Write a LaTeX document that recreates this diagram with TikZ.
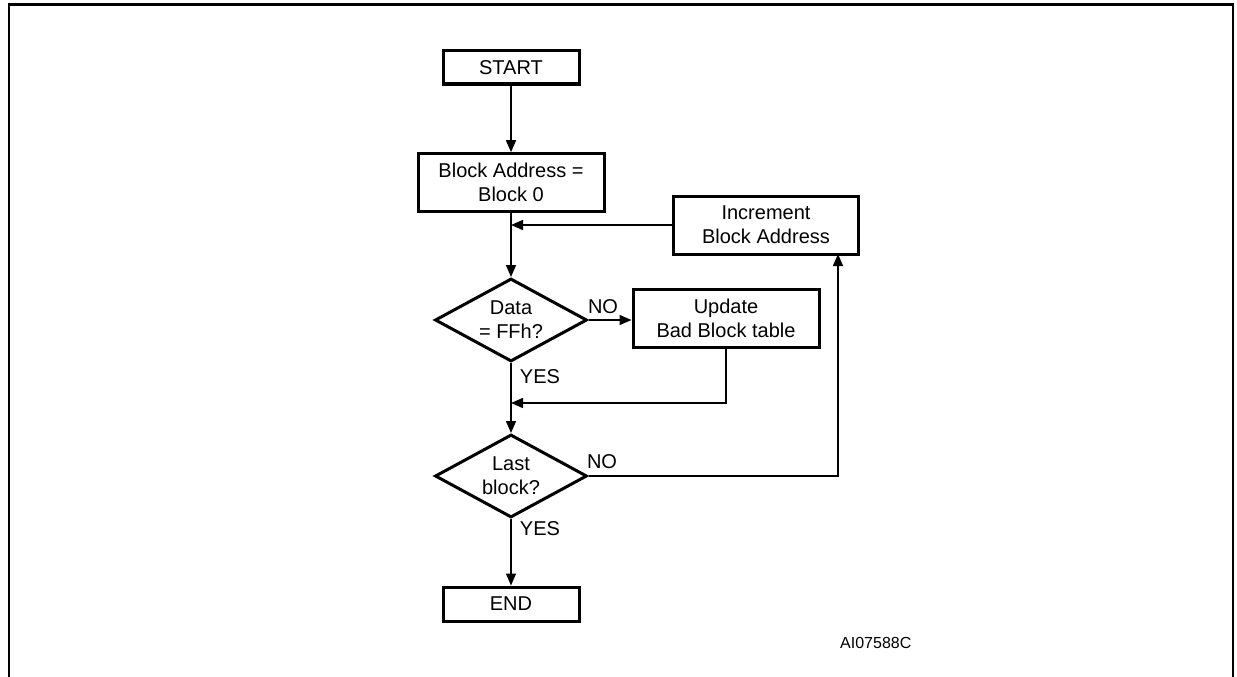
\documentclass[tikz,border=0pt]{standalone}
\usepackage{fontspec}
\setmainfont{Liberation Sans}
\usetikzlibrary{shapes.geometric,arrows.meta}
\begin{document}
\begin{tikzpicture}[x=1pt,y=-1pt,
  every node/.style={font=\fontsize{20}{24}\selectfont, align=center},
  boxnode/.style={draw, line width=3pt, inner sep=0pt},
  decision/.style={draw, diamond, line width=3pt, inner sep=0pt, aspect=1.8, minimum width=152pt, minimum height=83pt},
  conn/.style={line width=1.5pt, -{Triangle[length=12pt,width=10pt]}},
  plainline/.style={line width=1.5pt},
  lbl/.style={inner sep=0pt},
  framestyle/.style={line width=2.5pt}]
\useasboundingbox (0,0) rectangle (1237,677);
\draw[framestyle] (9,700) -- (9,4.3) -- (1233,4.3) -- (1233,700);

\node[boxnode, minimum width=136pt, minimum height=33pt] (start) at (511,67.5) {START};
\node[boxnode, minimum width=186pt, minimum height=58pt] (baddr) at (511,182.7) {Block Address =\\Block 0};
\node[boxnode, minimum width=185pt, minimum height=58pt] (incr) at (766,225) {Increment\\Block Address};
\node[decision] (data) at (511,320) {Data\\= FFh?};
\node[boxnode, minimum width=186pt, minimum height=58pt] (upd) at (726,318.5) {Update\\Bad Block table};
\node[decision] (last) at (511,476) {Last\\block?};
\node[boxnode, minimum width=136pt, minimum height=34pt] (end) at (511,604) {END};

\node[lbl] (no1) at (603,307) {NO};
\node[lbl] (yes1) at (540,377) {YES};
\node[lbl] (no2) at (602,462) {NO};
\node[lbl] (yes2) at (540,529) {YES};
\node[lbl, font=\fontsize{16}{19}\selectfont, anchor=west] (code) at (840,643) {AI07588C};

\coordinate (merge) at (511,403);
\coordinate (rtop) at (838,254);

\draw[conn] (start.south) -- (baddr.north);
\draw[conn] (baddr.south) -- (data.north);
\draw[conn] (incr.west) -- (baddr.south |- incr.west);
\draw[conn] (data.east) -- (data.east -| upd.west);
\draw[conn] (upd.south) |- (merge);
\draw[conn] (data.south) -- (last.north);
\draw[conn] (last.east) -| (rtop);
\draw[conn] (last.south) -- (end.north);
\end{tikzpicture}
\end{document}
